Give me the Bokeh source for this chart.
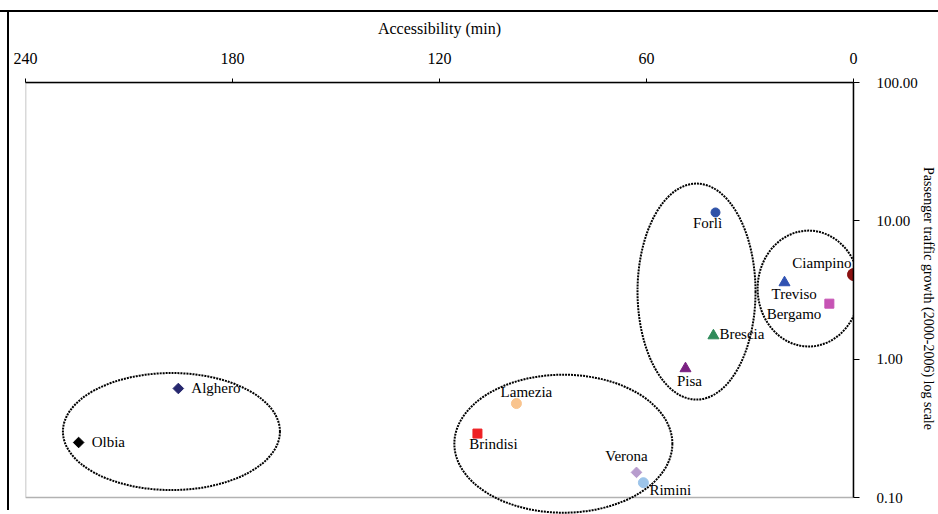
from bokeh.plotting import figure
from bokeh.models import Range1d, FixedTicker, PrintfTickFormatter, BoxAnnotation, ColumnDataSource
from bokeh.core.properties import value
from bokeh.embed import file_html
from bokeh.resources import INLINE
import math

# ---- data ----
airports = ["Forlì", "Ciampino", "Treviso", "Bergamo", "Brescia", "Pisa",
            "Alghero", "Olbia", "Lamezia", "Brindisi", "Verona", "Rimini"]
access_min = [40.0, 0.0, 20.0, 7.0, 40.6, 48.7, 195.7, 224.6, 97.7, 109.0, 62.9, 60.9]
growth = [11.5, 4.09, 3.58, 2.52, 1.48, 0.856, 0.614, 0.250, 0.478, 0.290, 0.152, 0.128]
x_ticks = [240, 180, 120, 60, 0]
y_ticks = [0.1, 1, 10, 100]

# ---- styling (not data) ----
markers = ["circle", "circle", "triangle", "square", "triangle", "triangle",
           "square", "square", "circle", "square", "square", "circle"]
angles = [0, 0, 0, 0, 0, 0, math.pi / 4, math.pi / 4, 0, 0, math.pi / 4, 0]
sizes = [9, 12, 11, 9, 11, 11, 7.5, 7.5, 10, 9, 7.5, 10]
colors = ["#2f52a8", "#8b1111", "#2f52b2", "#c653b4", "#2e8b5a", "#7a2182",
          "#26276e", "#000000", "#f9c48e", "#ee2024", "#b79ccd", "#9cc4ea"]
lab_align = ["center", "right", "left", "right", "left", "center",
             "left", "left", "center", "center", "center", "left"]
lab_dx = [-8, -2, -13, -8, 6, 4, 13, 13, 10, 16, -10, 6]
lab_dy = [11, -12, 11, 10, -2, 12, 0, 0, -12, 10, -16, 7]

# group ellipses (annotation outlines)
ell_x = [197.7, 84.1, 45.5, 13.0]
ell_y = [0.300, 0.245, 3.08, 3.24]
ell_w = [217, 218, 118, 102]
ell_h = [117, 138, 216, 116]

src = ColumnDataSource(dict(x=access_min, y=growth, name=airports, marker=markers,
                            angle=angles, size=sizes, color=colors,
                            align=lab_align, dx=lab_dx, dy=lab_dy))

FONT = "Liberation Serif"

p = figure(width=938, height=514,
           x_range=Range1d(240, 0), y_range=Range1d(0.0754, 100),
           y_axis_type="log", x_axis_location="above", y_axis_location="right",
           output_backend="svg", toolbar_location=None,
           min_border_left=25, min_border_right=85, min_border_top=82, min_border_bottom=0)

p.outline_line_color = None
p.border_fill_color = None
p.xgrid.visible = False
p.ygrid.visible = False
p.styles = {
    "background": "linear-gradient(#000,#000) 0 10px / 100% 2px no-repeat, linear-gradient(#000,#000) 7px 10px / 2px 500px no-repeat",
}

# frame box
p.add_layout(BoxAnnotation(left=240, right=0, bottom=0.1, top=100,
                           fill_color=None, line_color="black", line_width=1.5))

xa = p.xaxis[0]
xa.ticker = FixedTicker(ticks=x_ticks)
xa.axis_label = "Accessibility (min)"
xa.axis_label_text_font = FONT
xa.axis_label_text_font_style = "normal"
xa.axis_label_text_font_size = "16px"
xa.axis_label_text_color = "black"
xa.axis_label_standoff = 13
xa.major_label_text_font = FONT
xa.major_label_text_font_size = "16px"
xa.major_label_text_color = "black"
xa.major_label_standoff = 15
xa.major_tick_out = 4
xa.major_tick_in = 0
xa.minor_tick_line_color = None
xa.axis_line_color = "black"
xa.axis_line_width = 1.5
xa.major_tick_line_color = "black"

ya = p.yaxis[0]
ya.ticker = FixedTicker(ticks=y_ticks)
ya.bounds = (0.1, 100)
ya.formatter = PrintfTickFormatter(format="%.2f")
ya.axis_label = "Passenger traffic growth (2000-2006) log scale"
ya.axis_label_text_font = FONT
ya.axis_label_text_font_style = "normal"
ya.axis_label_text_font_size = "14px"
ya.axis_label_text_color = "black"
ya.axis_label_standoff = 0
ya.major_label_text_font = FONT
ya.major_label_text_font_size = "15px"
ya.major_label_text_color = "black"
ya.major_label_standoff = 17
ya.major_tick_out = 6
ya.major_tick_in = 0
ya.minor_tick_line_color = None
ya.axis_line_color = "black"
ya.axis_line_width = 1.5
ya.major_tick_line_color = "black"

p.ellipse(x=ell_x, y=ell_y, width=ell_w, height=ell_h,
          width_units="screen", height_units="screen",
          fill_color=None, line_color="black", line_width=2, line_dash="2 1")

p.scatter(x="x", y="y", source=src, marker="marker", size="size", angle="angle",
          fill_color="color", line_color="color")

p.text(x="x", y="y", text="name", source=src, x_offset="dx", y_offset="dy",
       text_align="align", text_baseline="middle",
       text_font=value(FONT), text_font_size="15px", text_color="black")

open("out.html", "w").write(file_html(p, INLINE))
